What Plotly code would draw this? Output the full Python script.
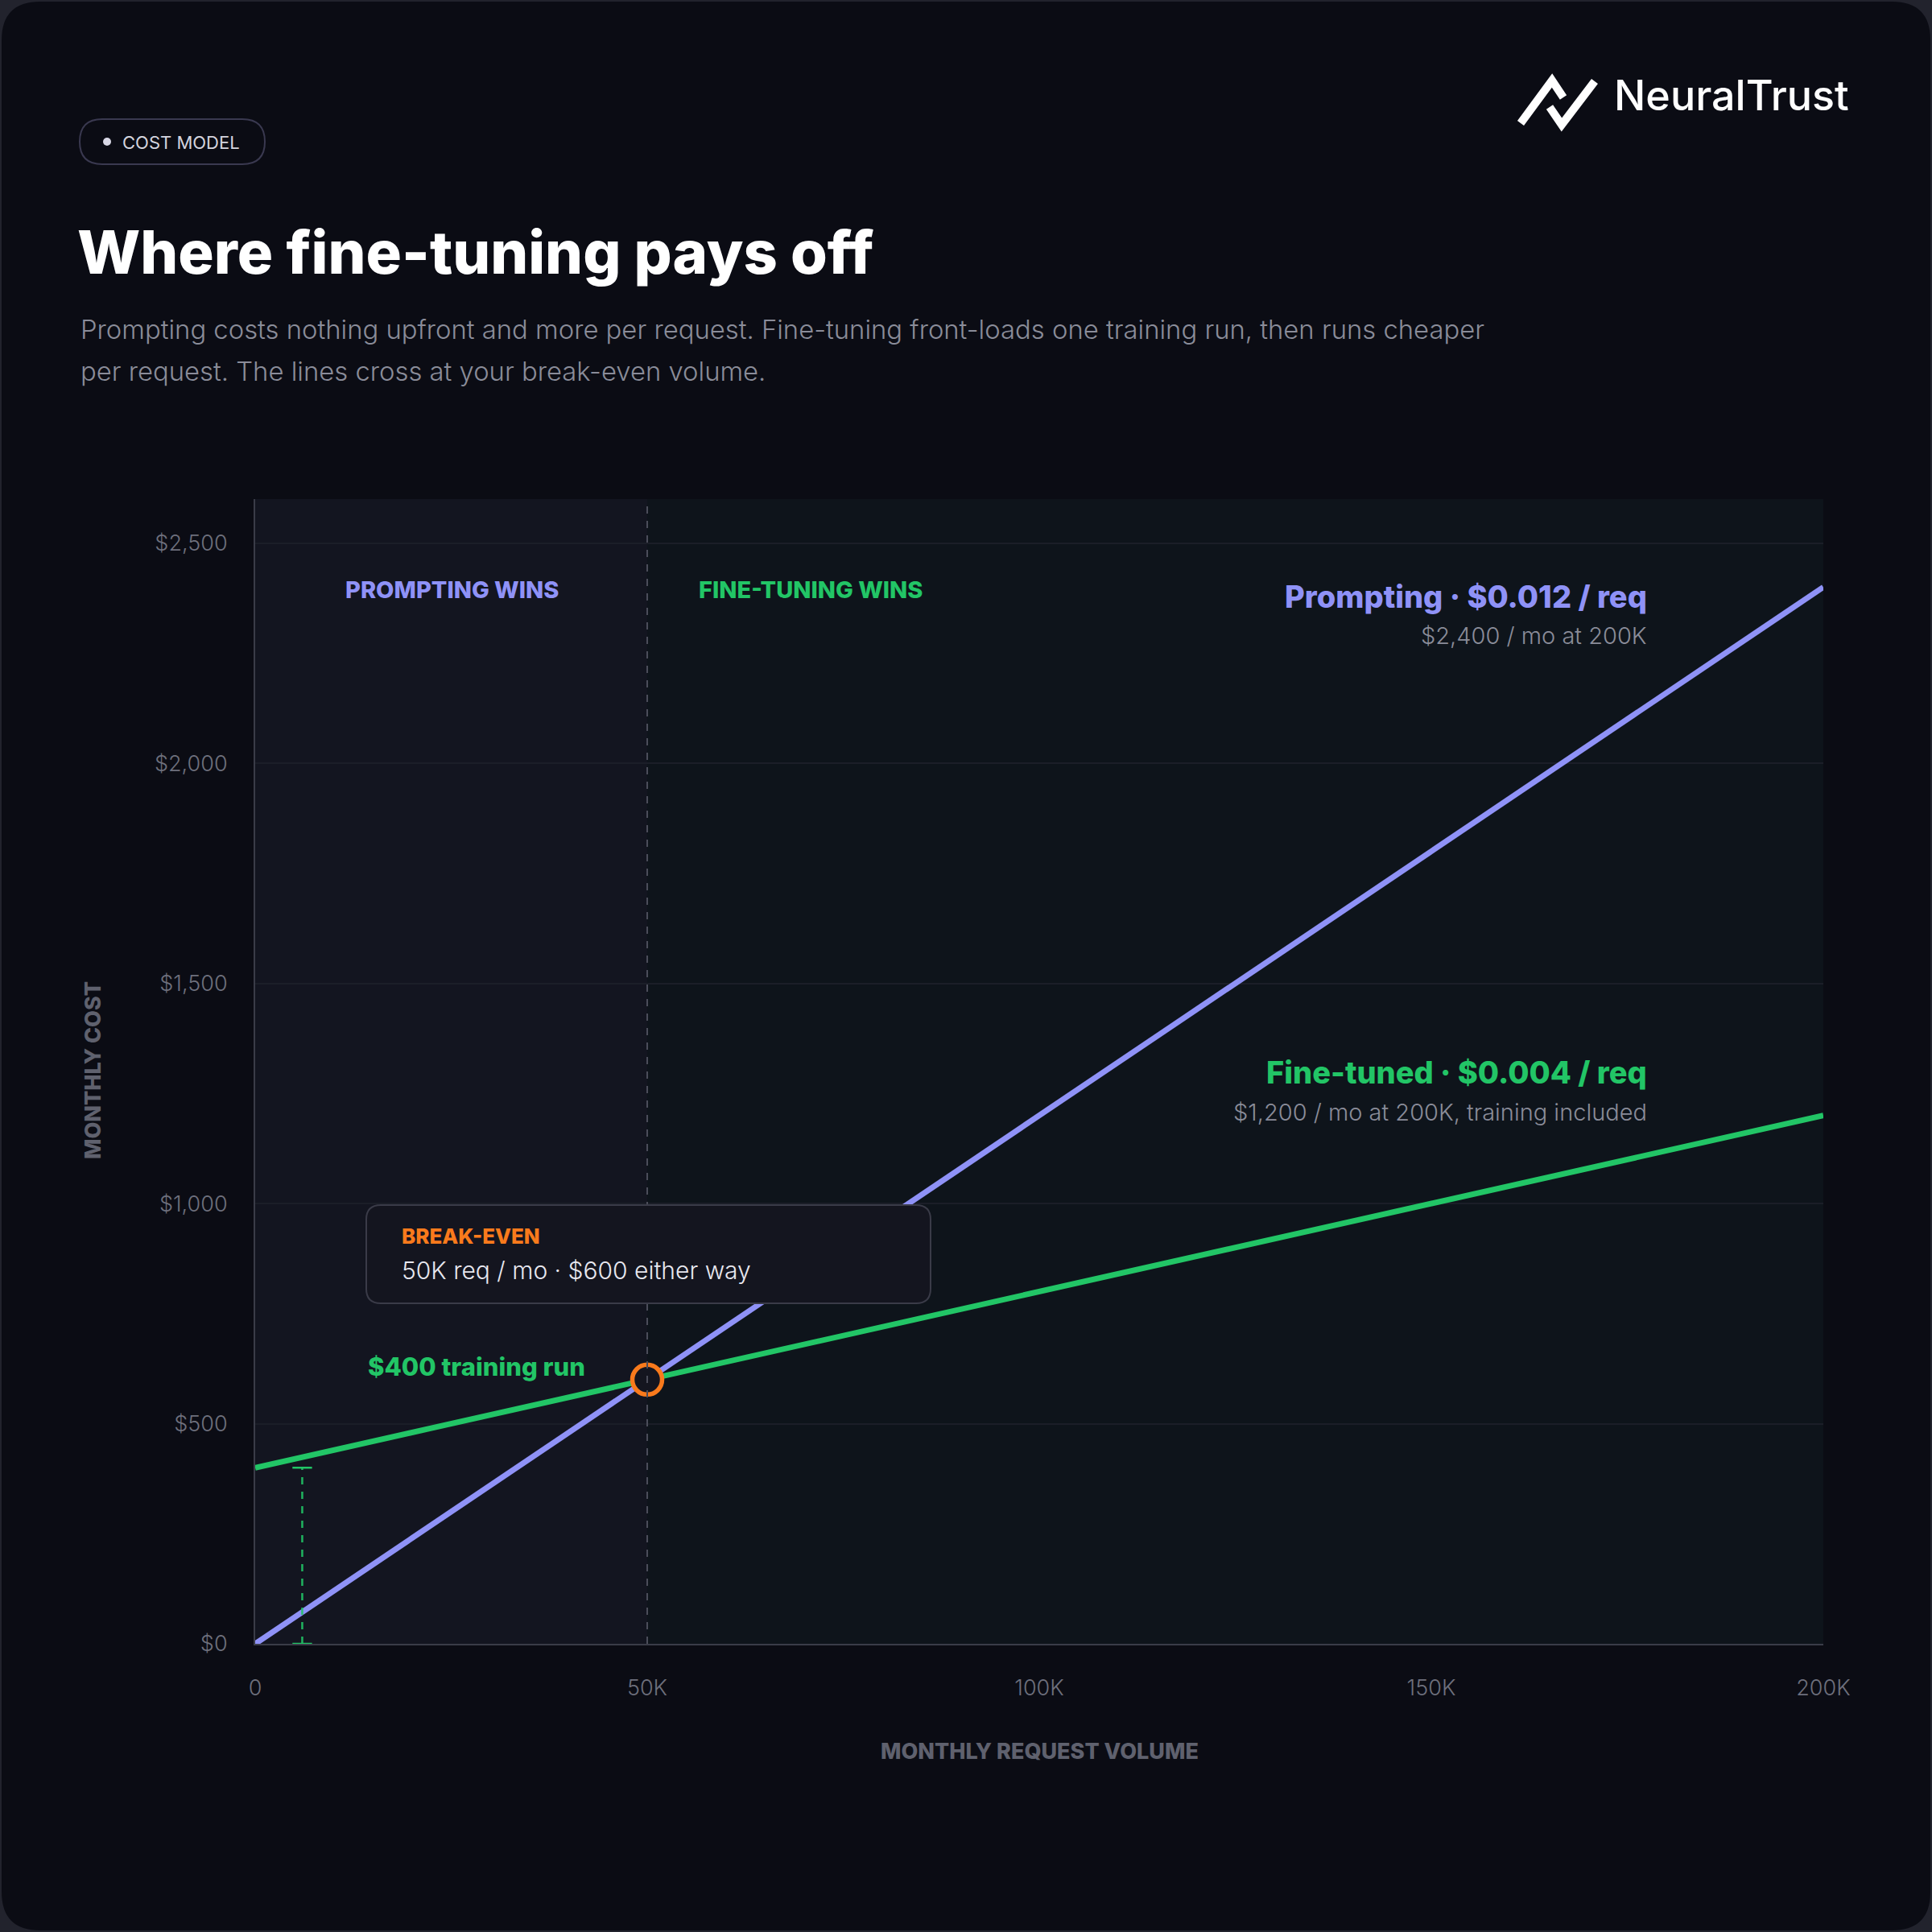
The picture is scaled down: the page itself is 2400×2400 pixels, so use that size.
import plotly.graph_objects as go

# ---------------- data ----------------
volume = [0, 50000, 100000, 150000, 200000]
prompting_cost = [0, 600, 1200, 1800, 2400]
finetuned_cost = [400, 600, 800, 1000, 1200]
breakeven_volume = [50000]
breakeven_cost = [600]
training_run_x = [6000, 6000]
training_run_y = [0, 400]
x_tickvals = [0, 50000, 100000, 150000, 200000]
x_ticktext = ["0", "50K", "100K", "150K", "200K"]
y_tickvals = [0, 500, 1000, 1500, 2000, 2500]
y_ticktext = ["$0", "$500", "$1,000", "$1,500", "$2,000", "$2,500"]

# ---------------- geometry helpers (pixel -> paper) ----------------
W = H = 2400
L, R, T, B = 317, 135, 620, 358
PW = W - L - R
PH = H - T - B


def X(px):
    return (px - L) / PW


def Y(py):
    return (H - B - py) / PH


def rrect(x0, y0, x1, y1, r):
    pts = [
        ("M", [(x0 + r, y0)]),
        ("L", [(x1 - r, y0)]),
        ("Q", [(x1, y0), (x1, y0 + r)]),
        ("L", [(x1, y1 - r)]),
        ("Q", [(x1, y1), (x1 - r, y1)]),
        ("L", [(x0 + r, y1)]),
        ("Q", [(x0, y1), (x0, y1 - r)]),
        ("L", [(x0, y0 + r)]),
        ("Q", [(x0, y0), (x0 + r, y0)]),
    ]
    s = ""
    for cmd, ps in pts:
        s += cmd + " " + " ".join(f"{X(a):.5f},{Y(b):.5f}" for a, b in ps) + " "
    return s + "Z"


def poly(points):
    return "M " + " L ".join(f"{X(a):.5f},{Y(b):.5f}" for a, b in points)


BG = "#0b0c14"
LEFT_BG = "#131520"
RIGHT_BG = "#0e141b"
PURPLE = "#8f92f7"
GREEN = "#22c566"
ORANGE = "#f97a1c"
TICK = "#6e707d"
FONT = "Inter"

fig = go.Figure()

# lines
fig.add_trace(go.Scatter(x=volume, y=finetuned_cost, mode="lines",
                         line=dict(color=GREEN, width=7), hoverinfo="skip"))
fig.add_trace(go.Scatter(x=volume, y=prompting_cost, mode="lines",
                         line=dict(color=PURPLE, width=7), hoverinfo="skip"))
# training run bracket
fig.add_trace(go.Scatter(x=training_run_x, y=training_run_y, mode="lines",
                         line=dict(color=GREEN, width=2.5, dash="dash"), opacity=0.9,
                         hoverinfo="skip"))
# break-even marker
fig.add_trace(go.Scatter(x=breakeven_volume, y=breakeven_cost, mode="markers",
                         marker=dict(size=37, color="#14151f",
                                     line=dict(color=ORANGE, width=5.5)),
                         hoverinfo="skip"))

shapes = []
# card
shapes.append(dict(type="path", xref="paper", yref="paper", layer="below",
                   path=rrect(2, 2, 2398, 2398, 48), fillcolor=BG, line=dict(width=0)))
# regions
shapes.append(dict(type="rect", xref="x", yref="y", layer="below",
                   x0=0, x1=breakeven_volume[0], y0=0, y1=2600,
                   fillcolor=LEFT_BG, line=dict(width=0)))
shapes.append(dict(type="rect", xref="x", yref="y", layer="below",
                   x0=breakeven_volume[0], x1=200000, y0=0, y1=2600,
                   fillcolor=RIGHT_BG, line=dict(width=0)))
# break-even vertical dashed line
shapes.append(dict(type="line", xref="x", yref="y", layer="above",
                   x0=breakeven_volume[0], x1=breakeven_volume[0], y0=0, y1=2600,
                   line=dict(color="#4b4d5a", width=2, dash="dash")))
# bracket caps
for yv in training_run_y:
    shapes.append(dict(type="line", xref="x", yref="y", layer="above",
                       x0=training_run_x[0] - 1250, x1=training_run_x[0] + 1250, y0=yv, y1=yv,
                       line=dict(color=GREEN, width=2.5)))
# break-even box
shapes.append(dict(type="path", xref="paper", yref="paper", layer="above",
                   path=rrect(455, 1497, 1156, 1619, 18), fillcolor="#14151f",
                   line=dict(color="#3a3b48", width=2)))
# badge pill
shapes.append(dict(type="path", xref="paper", yref="paper", layer="above",
                   path=rrect(99, 148, 329, 204, 28), fillcolor=BG,
                   line=dict(color="#3a3950", width=2)))
shapes.append(dict(type="circle", xref="paper", yref="paper", layer="above",
                   x0=X(128), x1=X(138), y0=Y(181), y1=Y(171),
                   fillcolor="#d8d8e6", line=dict(width=0)))
# logo icon
shapes.append(dict(type="path", xref="paper", yref="paper", layer="above",
                   path=poly([(1889, 153), (1928, 100), (1942, 121)]),
                   line=dict(color="white", width=10)))
shapes.append(dict(type="path", xref="paper", yref="paper", layer="above",
                   path=poly([(1925, 133), (1940, 155), (1981, 101)]),
                   line=dict(color="white", width=10)))

ann = []


def text(px, py, s, size, color, weight=400, xanchor="left", yanchor="middle"):
    ann.append(dict(x=X(px), y=Y(py), xref="paper", yref="paper", text=s,
                    showarrow=False, xanchor=xanchor, yanchor=yanchor,
                    font=dict(family=FONT, size=size, color=color, weight=weight)))


text(150, 177, "COST MODEL", 22, "#d4d4de", 400)
text(2003, 119, "NeuralTrust", 52, "#ffffff", 500)
text(94, 313, "Where fine-tuning pays off", 74, "#ffffff", 800)
text(98, 409, "Prompting costs nothing upfront and more per request. Fine-tuning front-loads one training run, then runs cheaper",
     32.8, "#8a8c99", 300)
text(98, 461, "per request. The lines cross at your break-even volume.", 32.8, "#8a8c99", 300)

text(561, 732, "PROMPTING WINS", 29, PURPLE, 800, xanchor="center")
text(866, 732, "FINE-TUNING WINS", 29, GREEN, 800)
text(2048, 741, "Prompting · $0.012 / req", 38, PURPLE, 800, xanchor="right")
text(2048, 790, "$2,400 / mo at 200K", 29, "#8a8c99", 300, xanchor="right")
text(2048, 1332, "Fine-tuned · $0.004 / req", 38, GREEN, 800, xanchor="right")
text(2048, 1381, "$1,200 / mo at 200K, training included", 29, "#8a8c99", 300, xanchor="right")

text(497, 1535, "BREAK-EVEN", 26, ORANGE, 800)
text(497, 1578, "50K req / mo · $600 either way", 30, "#e8e8f0", 300)
text(455, 1697, "$400 training run", 31, GREEN, 800)

text(1291, 2175, "MONTHLY REQUEST VOLUME", 27, "#5f616e", 800, xanchor="center")
ann.append(dict(x=X(115), y=Y(1330), xref="paper", yref="paper", text="MONTHLY COST",
                showarrow=False, textangle=-90, xanchor="center", yanchor="middle",
                font=dict(family=FONT, size=27, color="#5f616e", weight=800)))

fig.update_layout(
    width=W, height=H, autosize=False,
    margin=dict(l=L, r=R, t=T, b=B, pad=0),
    paper_bgcolor="#22232d",
    plot_bgcolor="rgba(0,0,0,0)",
    showlegend=False,
    shapes=shapes,
    annotations=ann,
    font=dict(family=FONT),
)
fig.update_xaxes(range=[0, 200000], tickmode="array", tickvals=x_tickvals, ticktext=x_ticktext,
                 showgrid=False, zeroline=False, showline=True, linecolor="#3a3c48",
                 linewidth=2, ticks="", ticklabelstandoff=30,
                 tickfont=dict(family=FONT, size=27, color=TICK, weight=300))
fig.update_yaxes(range=[0, 2600], tickmode="array", tickvals=y_tickvals, ticktext=y_ticktext,
                 showgrid=True, gridcolor="#1b1e28", gridwidth=2, zeroline=False,
                 showline=True, linecolor="#3a3c48", linewidth=2, ticks="",
                 ticklabelstandoff=27,
                 tickfont=dict(family=FONT, size=27, color=TICK, weight=300))

fig.write_html("out.html")
